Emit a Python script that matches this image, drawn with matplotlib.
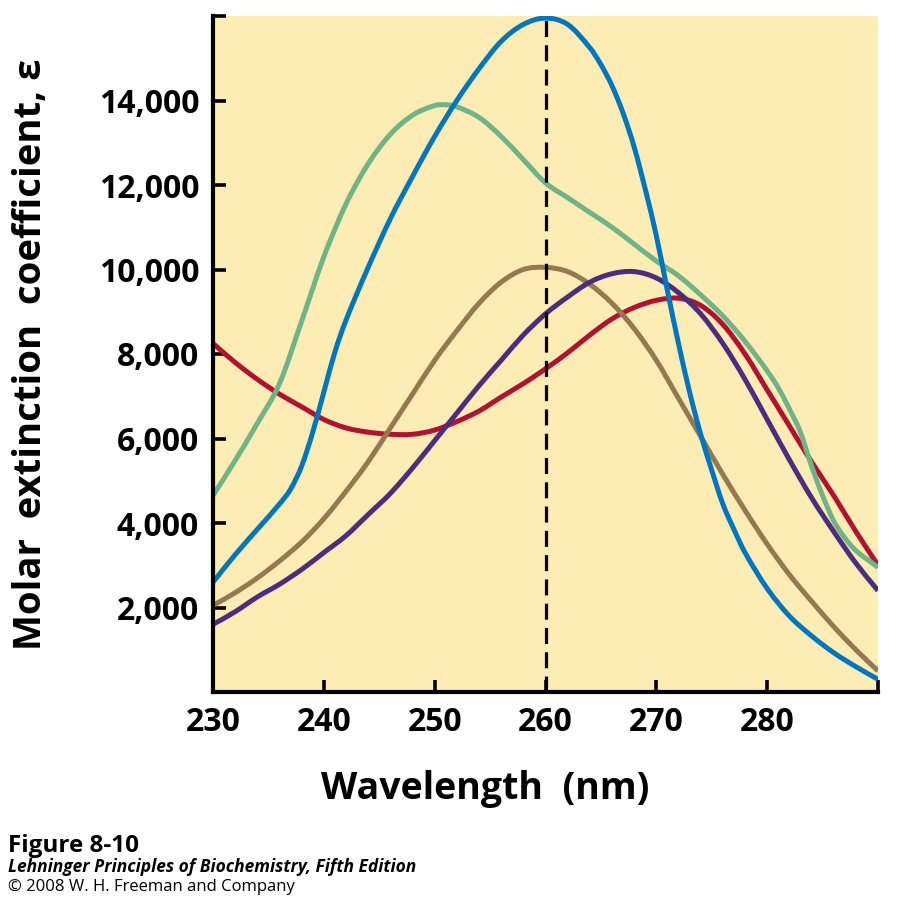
import matplotlib
matplotlib.use("Agg")
import matplotlib.pyplot as plt
from matplotlib.path import Path
from matplotlib.patches import PathPatch

# ---------------- data ----------------
wl_blue = [230, 232, 234, 236, 237, 238, 239, 240, 241, 242, 244, 246, 248, 250, 252, 254, 256, 258, 260,
           262, 264, 265, 266, 267, 268, 269, 270, 271, 272, 273, 274, 275, 276, 277, 278, 280, 282, 284, 286,
           288, 290]
eps_blue = [2600, 3250, 3850, 4450, 4800, 5350, 6150, 7100, 8050, 8800, 10050, 11200, 12200, 13150, 14000, 14750,
            15400, 15800, 15950, 15800, 15250, 14850, 14350, 13700, 12900, 11900, 10800, 9500, 8250, 7100, 6100,
            5250, 4450, 3850, 3300, 2450, 1800, 1330, 930, 600, 300]

wl_green = [230, 232, 234, 236, 238, 240, 242, 244, 246, 248, 250, 251, 252, 254, 256, 258, 260, 262, 264,
            266, 268, 270, 272, 274, 276, 278, 280, 281, 282, 283, 284, 285, 286, 287, 288, 290]
eps_green = [4650, 5480, 6360, 7300, 8780, 10300, 11550, 12500, 13200, 13650, 13880, 13900, 13850, 13600, 13150,
             12600, 12050, 11700, 11350, 11000, 10600, 10200, 9850, 9400, 8900, 8300, 7600, 7200, 6700, 6150,
             5350, 4650, 4050, 3650, 3350, 2950]

wl_std = [230, 232, 234, 236, 238, 240, 242, 244, 246, 248, 250, 252, 254, 256, 258, 260, 262, 264, 266,
          268, 270, 272, 274, 276, 278, 280, 282, 284, 286, 288, 290]
eps_brown = [2050, 2350, 2700, 3100, 3550, 4100, 4750, 5450, 6250, 7050, 7850, 8550, 9200, 9700, 10000, 10050,
             9950, 9650, 9200, 8600, 7850, 6950, 6050, 5150, 4300, 3500, 2780, 2150, 1550, 1000, 500]
eps_purple = [1600, 1900, 2250, 2550, 2900, 3300, 3700, 4200, 4700, 5300, 5950, 6600, 7250, 7850, 8450, 8950,
              9350, 9700, 9900, 9950, 9800, 9450, 8950, 8250, 7400, 6450, 5500, 4600, 3800, 3050, 2400]
eps_red = [8250, 7800, 7400, 7050, 6750, 6450, 6250, 6150, 6100, 6100, 6200, 6400, 6650, 6980, 7300, 7650,
           8030, 8450, 8830, 9100, 9270, 9320, 9150, 8700, 8000, 7150, 6300, 5450, 4650, 3800, 3000]

x_ticks = [230, 240, 250, 260, 270, 280, 290]
x_tick_labels = ["230", "240", "250", "260", "270", "280", ""]
y_ticks = [2000, 4000, 6000, 8000, 10000, 12000, 14000, 16000]
y_tick_labels = ["2,000", "4,000", "6,000", "8,000", "10,000", "12,000", "14,000", ""]
ref_wavelength = 260

# ---------------- style ----------------
plt.rcParams['font.family'] = ['Open Sans', 'DejaVu Sans']
BG = "#FDECB4"
C_BLUE = "#0076C0"
C_GREEN = "#6EB487"
C_BROWN = "#967850"
C_PURPLE = "#4B2D7F"
C_RED = "#B21232"


def smooth_curve(ax, xs, ys, color, lw, z):
    """Draw a smooth cubic-Bezier curve through the given data points (drawn in data coords)."""
    n = len(xs)
    slopes = []
    for i in range(n):
        if i == 0:
            m = (ys[1] - ys[0]) / (xs[1] - xs[0])
        elif i == n - 1:
            m = (ys[-1] - ys[-2]) / (xs[-1] - xs[-2])
        else:
            m = (ys[i + 1] - ys[i - 1]) / (xs[i + 1] - xs[i - 1])
        slopes.append(m)
    verts = [(xs[0], ys[0])]
    codes = [Path.MOVETO]
    for i in range(n - 1):
        h = xs[i + 1] - xs[i]
        c1 = (xs[i] + h / 3.0, ys[i] + slopes[i] * h / 3.0)
        c2 = (xs[i + 1] - h / 3.0, ys[i + 1] - slopes[i + 1] * h / 3.0)
        verts += [c1, c2, (xs[i + 1], ys[i + 1])]
        codes += [Path.CURVE4, Path.CURVE4, Path.CURVE4]
    patch = PathPatch(Path(verts, codes), facecolor="none", edgecolor=color, lw=lw,
                      capstyle="butt", joinstyle="round", zorder=z, transform=ax.transData)
    ax.add_patch(patch)


fig = plt.figure(figsize=(9.15, 9.06), dpi=100)
ax = fig.add_axes([213/915, 1-692/906, 665/915, 676/906])
ax.set_facecolor(BG)

lw = 3.6
smooth_curve(ax, wl_std, eps_red, C_RED, lw, 3)
smooth_curve(ax, wl_std, eps_brown, C_BROWN, lw, 3)
smooth_curve(ax, wl_std, eps_purple, C_PURPLE, lw, 4)
smooth_curve(ax, wl_green, eps_green, C_GREEN, lw, 5)
smooth_curve(ax, wl_blue, eps_blue, C_BLUE, lw, 6)

ax.axvline(ref_wavelength, ymin=0, ymax=0.995, color="black", lw=2.3, dashes=(5, 2.6), zorder=7)

ax.set_xlim(230, 290)
ax.set_ylim(0, 16000)

for s in ["top", "right"]:
    ax.spines[s].set_visible(False)
for s in ["left", "bottom"]:
    ax.spines[s].set_linewidth(3.0)
    ax.spines[s].set_color("black")
    ax.spines[s].set_zorder(8)

ax.set_xticks(x_ticks)
ax.set_xticklabels(x_tick_labels)
ax.set_yticks(y_ticks)
ax.set_yticklabels(y_tick_labels)
ax.tick_params(direction="in", length=9, width=2.6, color="black", labelsize=23, pad=10)
for t in ax.get_xticklabels() + ax.get_yticklabels():
    t.set_fontweight("bold")

ax.set_xlabel("Wavelength  (nm)", fontsize=27, fontweight="bold")
ax.xaxis.set_label_coords(0.409, -0.115)
ax.set_ylabel("Molar  extinction  coefficient, ε", fontsize=27.5, fontweight="bold")
ax.yaxis.set_label_coords(-0.245, 0.5)

fig.text(8/915, 1-852/906, "Figure 8-10", fontsize=17.5, fontweight="bold", ha="left", va="baseline")
fig.text(8/915, 1-872/906, "Lehninger Principles of Biochemistry, Fifth Edition", fontsize=12.5,
         fontweight="bold", fontstyle="italic", ha="left", va="baseline")
fig.text(8/915, 1-891/906, "© 2008 W. H. Freeman and Company", fontsize=12, ha="left", va="baseline")

fig.savefig("out.png", dpi=100)
